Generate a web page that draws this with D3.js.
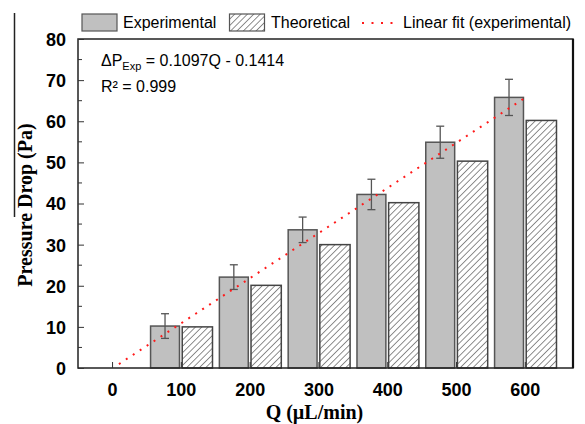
<!DOCTYPE html>
<html>
<head>
<meta charset="utf-8">
<script src="https://cdn.jsdelivr.net/npm/d3@7"></script>
<style>
  body { margin: 0; background: #fff; }
  svg { display: block; }
  .tick-label { font-family: Arial, "Liberation Sans", sans-serif; font-weight: bold; font-size: 18px; fill: #000; }
  .legend-text { font-family: Arial, "Liberation Sans", sans-serif; font-size: 16px; fill: #000; }
  .axis-title { font-family: "Times New Roman", "Liberation Serif", serif; font-weight: bold; font-size: 20px; fill: #000; }
</style>
</head>
<body>
<svg width="585" height="424"></svg>
<script>
// data
var flowRates = [100, 200, 300, 400, 500, 600];
var experimental = [10.2, 22.1, 33.6, 42.2, 54.9, 65.8];
var expError = [3.0, 3.0, 3.1, 3.7, 3.9, 4.4];
var theoretical = [10.0, 20.1, 30.0, 40.2, 50.3, 60.2];
var xTicks = [0, 100, 200, 300, 400, 500, 600];
var yTicks = [0, 10, 20, 30, 40, 50, 60, 70, 80];
var fitSlope = 0.1097, fitIntercept = -0.1414;
var fitRange = [10, 600];

var svg = d3.select('svg');

var plotLeft = 78, plotRight = 573, plotTop = 39, plotBottom = 368;

var x = d3.scaleLinear().domain([-49.5, 670]).range([plotLeft, plotRight]);
var y = d3.scaleLinear().domain([0, 80]).range([plotBottom, plotTop]);

// hatch pattern for theoretical bars
var defs = svg.append('defs');
var pat = defs.append('pattern')
  .attr('id', 'hatch')
  .attr('patternUnits', 'userSpaceOnUse')
  .attr('width', 4.5).attr('height', 4.5)
  .attr('patternTransform', 'rotate(45)');
pat.append('rect').attr('width', 4.5).attr('height', 4.5).attr('fill', '#fff');
pat.append('line')
  .attr('x1', 0).attr('y1', 0).attr('x2', 0).attr('y2', 4.5)
  .attr('stroke', '#333').attr('stroke-width', 1.1);

// stray line at left edge of the picture
svg.append('line')
  .attr('x1', 14.5).attr('x2', 14.5).attr('y1', 13).attr('y2', 217)
  .attr('stroke', '#222').attr('stroke-width', 1.5);

var data = flowRates.map(function(q, i) {
  return { q: q, exp: experimental[i], err: expError[i], theo: theoretical[i] };
});

// experimental bars
svg.append('g').selectAll('rect')
  .data(data)
  .enter()
  .append('rect')
  .attr('x', function(d) { return x(d.q - 44); })
  .attr('y', function(d) { return y(d.exp); })
  .attr('width', function(d) { return x(d.q - 2) - x(d.q - 44); })
  .attr('height', function(d) { return y(0) - y(d.exp); })
  .attr('fill', '#c0c0c0')
  .attr('stroke', '#555')
  .attr('stroke-width', 1.5);

// theoretical bars
svg.append('g').selectAll('rect')
  .data(data)
  .enter()
  .append('rect')
  .attr('x', function(d) { return x(d.q + 2); })
  .attr('y', function(d) { return y(d.theo); })
  .attr('width', function(d) { return x(d.q + 46) - x(d.q + 2); })
  .attr('height', function(d) { return y(0) - y(d.theo); })
  .attr('fill', 'url(#hatch)')
  .attr('stroke', '#444')
  .attr('stroke-width', 1.5);

// error bars
var eb = svg.append('g').attr('stroke', '#555').attr('stroke-width', 1.3);
data.forEach(function(d) {
  var cx = x(d.q - 23);
  eb.append('line').attr('x1', cx).attr('x2', cx).attr('y1', y(d.exp + d.err)).attr('y2', y(d.exp - d.err));
  eb.append('line').attr('x1', cx - 4).attr('x2', cx + 4).attr('y1', y(d.exp + d.err)).attr('y2', y(d.exp + d.err));
  eb.append('line').attr('x1', cx - 4).attr('x2', cx + 4).attr('y1', y(d.exp - d.err)).attr('y2', y(d.exp - d.err));
});

// linear fit
var fitLine = d3.line()
  .x(function(q) { return x(q); })
  .y(function(q) { return y(fitSlope * q + fitIntercept); });
svg.append('path')
  .datum(fitRange)
  .attr('d', fitLine)
  .attr('fill', 'none')
  .attr('stroke', '#ff1a1a')
  .attr('stroke-width', 2)
  .attr('stroke-dasharray', '2,6.3');

// frame
svg.append('rect')
  .attr('x', plotLeft).attr('y', plotTop)
  .attr('width', plotRight - plotLeft).attr('height', plotBottom - plotTop)
  .attr('fill', 'none').attr('stroke', '#222').attr('stroke-width', 1.5);
svg.append('line')
  .attr('x1', plotRight).attr('x2', plotRight).attr('y1', plotTop).attr('y2', plotBottom)
  .attr('stroke', '#111').attr('stroke-width', 2.2);

// y axis (ticks inside)
var yAxis = d3.axisLeft(y).tickValues(yTicks).tickSize(-6).tickPadding(12);
var yg = svg.append('g').attr('transform', 'translate(' + plotLeft + ',0)').call(yAxis);
yg.select('.domain').remove();
yg.selectAll('.tick line').attr('stroke', '#333').attr('stroke-width', 1);
yg.selectAll('.tick text').attr('class', 'tick-label').attr('dy', '0.36em');
// minor ticks
svg.append('g').selectAll('line')
  .data(d3.range(5, 80, 10))
  .enter()
  .append('line')
  .attr('x1', plotLeft).attr('x2', plotLeft + 4)
  .attr('y1', function(d) { return y(d); })
  .attr('y2', function(d) { return y(d); })
  .attr('stroke', '#333').attr('stroke-width', 1);

// x axis (ticks inside)
var xAxis = d3.axisBottom(x).tickValues(xTicks).tickSize(-6).tickPadding(15);
var xg = svg.append('g').attr('transform', 'translate(0,' + plotBottom + ')').call(xAxis);
xg.select('.domain').remove();
xg.selectAll('.tick line').attr('stroke', '#333').attr('stroke-width', 1);
xg.selectAll('.tick text').attr('class', 'tick-label').attr('dy', '0.71em');

// axis titles
svg.append('text')
  .attr('class', 'axis-title')
  .attr('x', x(300) - 4).attr('y', 419)
  .attr('text-anchor', 'middle')
  .text('Q (\u00b5L/min)');
svg.append('text')
  .attr('class', 'axis-title')
  .attr('font-size', '22px')
  .attr('transform', 'translate(32,205) rotate(-90)')
  .attr('text-anchor', 'middle')
  .text('Pressure Drop (Pa)');

// equation
var eq = svg.append('text').attr('class', 'legend-text').attr('x', 101).attr('y', 66);
eq.append('tspan').text('\u0394P');
eq.append('tspan').attr('font-size', '11px').attr('dy', 4).text('Exp');
eq.append('tspan').attr('dy', -4).text(' = 0.1097Q - 0.1414');
svg.append('text').attr('class', 'legend-text').attr('x', 101).attr('y', 92).text('R\u00b2 = 0.999');

// legend
var lg = svg.append('g');
lg.append('rect').attr('x', 82).attr('y', 14).attr('width', 35).attr('height', 17)
  .attr('fill', '#c0c0c0').attr('stroke', '#555').attr('stroke-width', 1.2);
lg.append('text').attr('class', 'legend-text').attr('x', 123).attr('y', 28).text('Experimental');
lg.append('rect').attr('x', 229.5).attr('y', 14).attr('width', 35).attr('height', 17)
  .attr('fill', 'url(#hatch)').attr('stroke', '#555').attr('stroke-width', 1.2);
lg.append('text').attr('class', 'legend-text').attr('x', 271).attr('y', 28).text('Theoretical');
lg.append('line').attr('x1', 362).attr('x2', 394).attr('y1', 23).attr('y2', 23)
  .attr('stroke', '#ff1a1a').attr('stroke-width', 2).attr('stroke-dasharray', '2,7.5');
lg.append('text').attr('class', 'legend-text').attr('x', 403).attr('y', 28).text('Linear fit (experimental)');
</script>
</body>
</html>
